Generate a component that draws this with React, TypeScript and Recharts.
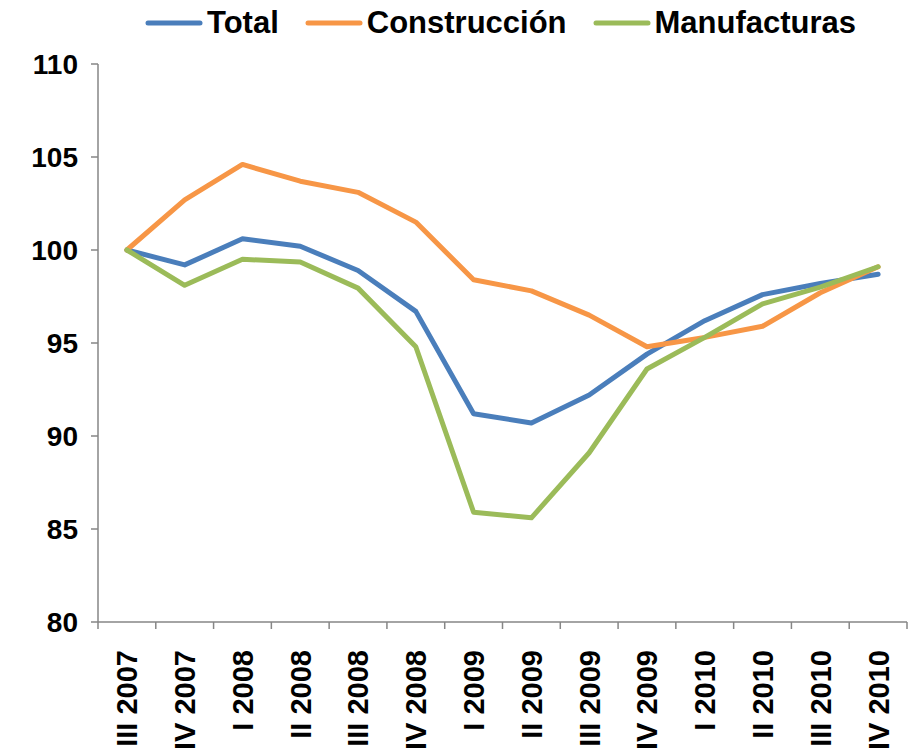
import React from 'react';
import { LineChart, Line, XAxis, YAxis, Legend } from 'recharts';

const categories = ['III 2007', 'IV 2007', 'I 2008', 'II 2008', 'III 2008', 'IV 2008', 'I 2009', 'II 2009', 'III 2009', 'IV 2009', 'I 2010', 'II 2010', 'III 2010', 'IV 2010'];
const total = [100, 99.2, 100.6, 100.2, 98.9, 96.7, 91.2, 90.7, 92.2, 94.4, 96.2, 97.6, 98.2, 98.7];
const construccion = [100, 102.7, 104.6, 103.7, 103.1, 101.5, 98.4, 97.8, 96.5, 94.8, 95.3, 95.9, 97.7, 99.1];
const manufacturas = [100, 98.1, 99.5, 99.35, 97.95, 94.8, 85.9, 85.6, 89.1, 93.6, 95.3, 97.1, 98.0, 99.1];
const yTicks = [80, 85, 90, 95, 100, 105, 110];

const seriesInfo = [
  { key: 'total', name: 'Total', color: '#4A7EBB' },
  { key: 'construccion', name: 'Construcción', color: '#F79646' },
  { key: 'manufacturas', name: 'Manufacturas', color: '#9BBB59' },
];

const data = categories.map((c, i) => ({
  x: i + 0.5,
  cat: c,
  total: total[i],
  construccion: construccion[i],
  manufacturas: manufacturas[i],
}));

const xTicks: number[] = [];
for (let i = 0; i <= categories.length * 2; i++) xTicks.push(i / 2);

const FONT = '"Liberation Sans", Arial, sans-serif';
const AXIS = '#868686';

const XTick = (props: any) => {
  const { x, y, payload } = props;
  const v = payload.value as number;
  if (Number.isInteger(v)) {
    return <line x1={x} y1={y} x2={x} y2={y + 7} stroke={AXIS} strokeWidth={1.5} />;
  }
  const label = categories[Math.floor(v)];
  const ty = y + 28;
  return (
    <text
      x={x}
      y={ty}
      transform={`rotate(-90, ${x}, ${ty})`}
      textAnchor="end"
      dy="0.36em"
      fill="#000"
      fontSize={29}
      fontWeight="bold"
      fontFamily={FONT}
    >
      {label}
    </text>
  );
};

const LegendContent = () => (
  <div style={{ display: 'flex', alignItems: 'center', fontFamily: FONT, fontWeight: 'bold', fontSize: 31, color: '#000', whiteSpace: 'nowrap' }}>
    {seriesInfo.map((s, i) => (
      <div key={s.key} style={{ display: 'flex', alignItems: 'center', marginRight: i < seriesInfo.length - 1 ? 26 : 0 }}>
        <svg width={58} height={10} style={{ marginRight: 4 }}>
          <line x1={3} y1={5} x2={55} y2={5} stroke={s.color} strokeWidth={5} strokeLinecap="round" />
        </svg>
        <span>{s.name}</span>
      </div>
    ))}
  </div>
);

export default function App() {
  return (
    <div style={{ position: 'absolute', left: 0, top: 0, width: 910, height: 756, background: '#fff', overflow: 'hidden' }}>
      <LineChart width={910} height={756} data={data} margin={{ top: 24, right: 3, bottom: 0, left: 0 }}>
        <Legend
          verticalAlign="top"
          align="left"
          content={<LegendContent />}
          wrapperStyle={{ position: 'absolute', top: 5, left: 145, height: 40, width: 760 }}
        />
        <XAxis
          dataKey="x"
          type="number"
          domain={[0, categories.length]}
          ticks={xTicks}
          interval={0}
          tickSize={0}
          tickMargin={0}
          tickLine={false}
          axisLine={{ stroke: AXIS, strokeWidth: 1.5 }}
          tick={<XTick />}
          height={134}
          allowDecimals
        />
        <YAxis
          type="number"
          domain={[80, 110]}
          ticks={yTicks}
          interval={0}
          width={98}
          tickSize={7}
          tickMargin={13}
          axisLine={{ stroke: AXIS, strokeWidth: 1.5 }}
          tickLine={{ stroke: AXIS, strokeWidth: 1.5 }}
          tick={{ fill: '#000', fontSize: 28, fontWeight: 'bold', fontFamily: FONT }}
        />
        {seriesInfo.map((s) => (
          <Line
            key={s.key}
            dataKey={s.key}
            name={s.name}
            stroke={s.color}
            strokeWidth={5}
            dot={false}
            isAnimationActive={false}
            strokeLinejoin="round"
            strokeLinecap="round"
          />
        ))}
      </LineChart>
    </div>
  );
}
